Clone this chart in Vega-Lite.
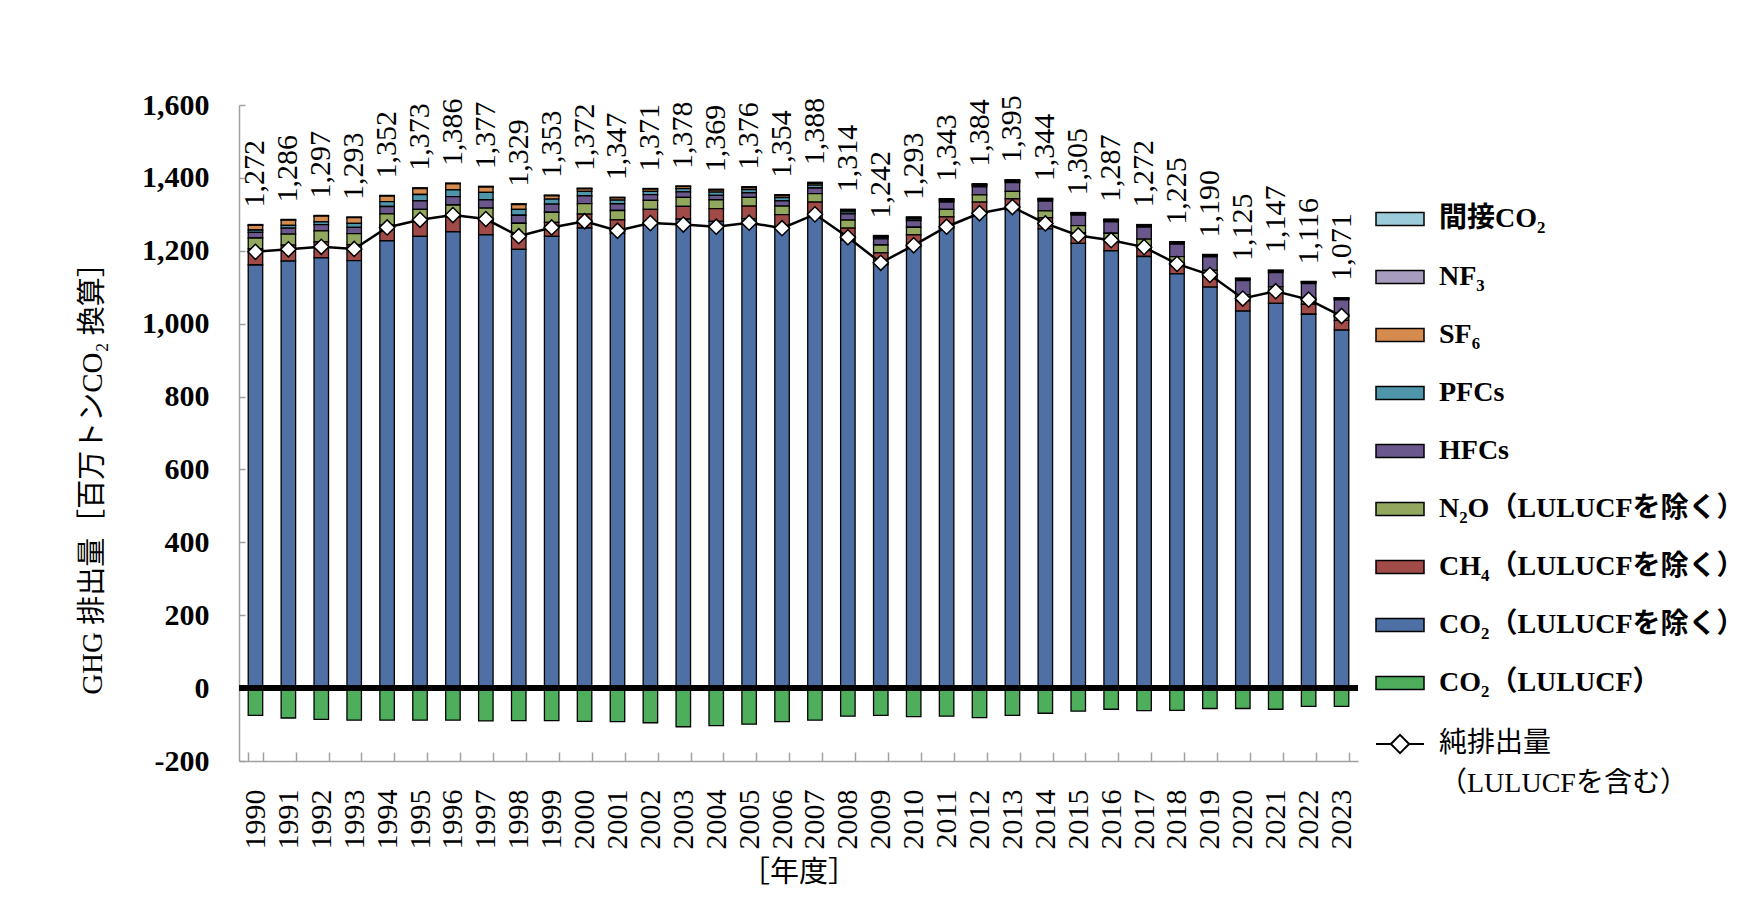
{
  "$schema": "https://vega.github.io/schema/vega-lite/v6.json",
  "width": 1119,
  "height": 656,
  "autosize": {"type": "none"},
  "padding": {"left": 239, "top": 105, "right": 390, "bottom": 137},
  "background": "white",
  "config": {
    "view": {"stroke": null},
    "font": "Liberation Serif, DejaVu Serif, Noto Sans CJK JP",
    "style": {"guide-label": {"lineHeight": 40}},
    "axis": {
      "labelFont": "Liberation Serif, DejaVu Serif, Noto Sans CJK JP",
      "titleFont": "Liberation Serif, DejaVu Serif, Noto Sans CJK JP",
      "labelColor": "black",
      "titleColor": "black",
      "labelFontSize": 30,
      "titleFontSize": 29,
      "titleFontWeight": "normal",
      "grid": false,
      "domainColor": "#a0a0a0",
      "tickColor": "#a0a0a0",
      "domainWidth": 1.5,
      "tickWidth": 1.5
    },
    "axisX": {
      "tickBand": "extent",
      "tickSize": -9,
      "labelAngle": -90,
      "labelAlign": "right",
      "labelBaseline": "middle",
      "labelPadding": 37,
      "titlePadding": 9
    },
    "axisY": {
      "tickSize": -6,
      "tickCount": 9,
      "labelPadding": 36,
      "labelFontWeight": "bold",
      "titleAngle": -90,
      "titleX": -147,
      "titleY": 366,
      "titleAlign": "center",
      "titleBaseline": "middle"
    },
    "legend": {
      "labelFont": "Liberation Serif, DejaVu Serif, Noto Sans CJK JP",
      "labelFontSize": 28,
      "labelColor": "black",
      "labelLimit": 500,
      "padding": 0
    }
  },
  "data": {
    "values": [
      {"year": 1990, "co2": 1161.0, "ch4": 44.0, "n2o": 30.0, "hfc": 15.5, "pfc": 6.5, "sf6": 12.9, "nf3": 0.03, "ind": 2.1, "lulucf": -75, "total": 1272, "net": 1197},
      {"year": 1991, "co2": 1171.7, "ch4": 44.0, "n2o": 30.0, "hfc": 16.5, "pfc": 7.5, "sf6": 14.2, "nf3": 0.03, "ind": 2.1, "lulucf": -82, "total": 1286, "net": 1204},
      {"year": 1992, "co2": 1180.3, "ch4": 44.0, "n2o": 30.5, "hfc": 17.0, "pfc": 7.6, "sf6": 15.6, "nf3": 0.04, "ind": 2.0, "lulucf": -86, "total": 1297, "net": 1211},
      {"year": 1993, "co2": 1172.8, "ch4": 44.0, "n2o": 30.0, "hfc": 17.5, "pfc": 10.9, "sf6": 15.7, "nf3": 0.06, "ind": 2.0, "lulucf": -88, "total": 1293, "net": 1205},
      {"year": 1994, "co2": 1227.0, "ch4": 43.0, "n2o": 31.5, "hfc": 20.0, "pfc": 13.4, "sf6": 15.0, "nf3": 0.08, "ind": 2.0, "lulucf": -88, "total": 1352, "net": 1264},
      {"year": 1995, "co2": 1239.7, "ch4": 42.0, "n2o": 32.0, "hfc": 23.0, "pfc": 17.7, "sf6": 16.4, "nf3": 0.2, "ind": 2.0, "lulucf": -88, "total": 1373, "net": 1285},
      {"year": 1996, "co2": 1251.6, "ch4": 41.0, "n2o": 33.0, "hfc": 23.0, "pfc": 18.3, "sf6": 17.0, "nf3": 0.2, "ind": 1.9, "lulucf": -88, "total": 1386, "net": 1298},
      {"year": 1997, "co2": 1243.5, "ch4": 40.0, "n2o": 33.5, "hfc": 23.0, "pfc": 20.4, "sf6": 14.5, "nf3": 0.2, "ind": 1.9, "lulucf": -90, "total": 1377, "net": 1287},
      {"year": 1998, "co2": 1204.0, "ch4": 39.0, "n2o": 32.5, "hfc": 22.0, "pfc": 16.3, "sf6": 13.2, "nf3": 0.2, "ind": 1.8, "lulucf": -89, "total": 1329, "net": 1240},
      {"year": 1999, "co2": 1239.7, "ch4": 38.5, "n2o": 27.5, "hfc": 22.5, "pfc": 13.5, "sf6": 9.2, "nf3": 0.3, "ind": 1.8, "lulucf": -89, "total": 1353, "net": 1264},
      {"year": 2000, "co2": 1262.5, "ch4": 38.0, "n2o": 29.0, "hfc": 21.5, "pfc": 11.9, "sf6": 7.0, "nf3": 0.3, "ind": 1.8, "lulucf": -91, "total": 1372, "net": 1281},
      {"year": 2001, "co2": 1248.0, "ch4": 37.0, "n2o": 25.5, "hfc": 18.5, "pfc": 9.9, "sf6": 6.1, "nf3": 0.3, "ind": 1.7, "lulucf": -92, "total": 1347, "net": 1255},
      {"year": 2002, "co2": 1277.5, "ch4": 36.0, "n2o": 25.0, "hfc": 15.5, "pfc": 9.2, "sf6": 5.7, "nf3": 0.4, "ind": 1.7, "lulucf": -95, "total": 1371, "net": 1276},
      {"year": 2003, "co2": 1286.6, "ch4": 35.5, "n2o": 24.5, "hfc": 15.0, "pfc": 8.9, "sf6": 5.4, "nf3": 0.5, "ind": 1.6, "lulucf": -106, "total": 1378, "net": 1272},
      {"year": 2004, "co2": 1280.5, "ch4": 35.0, "n2o": 24.5, "hfc": 12.0, "pfc": 9.2, "sf6": 5.3, "nf3": 0.9, "ind": 1.6, "lulucf": -103, "total": 1369, "net": 1266},
      {"year": 2005, "co2": 1288.2, "ch4": 34.5, "n2o": 24.0, "hfc": 12.5, "pfc": 8.6, "sf6": 5.1, "nf3": 1.5, "ind": 1.6, "lulucf": -99, "total": 1376, "net": 1277},
      {"year": 2006, "co2": 1265.2, "ch4": 34.0, "n2o": 23.5, "hfc": 14.0, "pfc": 9.0, "sf6": 5.2, "nf3": 1.6, "ind": 1.5, "lulucf": -92, "total": 1354, "net": 1262},
      {"year": 2007, "co2": 1300.2, "ch4": 33.5, "n2o": 23.0, "hfc": 15.5, "pfc": 7.9, "sf6": 4.7, "nf3": 1.7, "ind": 1.5, "lulucf": -88, "total": 1388, "net": 1300},
      {"year": 2008, "co2": 1229.2, "ch4": 33.0, "n2o": 22.0, "hfc": 17.0, "pfc": 5.7, "sf6": 4.2, "nf3": 1.5, "ind": 1.4, "lulucf": -77, "total": 1314, "net": 1237},
      {"year": 2009, "co2": 1161.8, "ch4": 32.5, "n2o": 21.5, "hfc": 17.0, "pfc": 4.0, "sf6": 2.4, "nf3": 1.5, "ind": 1.3, "lulucf": -75, "total": 1242, "net": 1167},
      {"year": 2010, "co2": 1211.6, "ch4": 32.0, "n2o": 21.0, "hfc": 18.5, "pfc": 4.2, "sf6": 2.4, "nf3": 2.0, "ind": 1.3, "lulucf": -78, "total": 1293, "net": 1215},
      {"year": 2011, "co2": 1261.4, "ch4": 31.5, "n2o": 20.5, "hfc": 20.5, "pfc": 3.8, "sf6": 2.2, "nf3": 1.8, "ind": 1.3, "lulucf": -77, "total": 1343, "net": 1266},
      {"year": 2012, "co2": 1302.6, "ch4": 31.0, "n2o": 20.0, "hfc": 22.0, "pfc": 3.4, "sf6": 2.2, "nf3": 1.5, "ind": 1.3, "lulucf": -81, "total": 1384, "net": 1303},
      {"year": 2013, "co2": 1312.3, "ch4": 30.5, "n2o": 20.0, "hfc": 24.0, "pfc": 3.3, "sf6": 2.1, "nf3": 1.5, "ind": 1.3, "lulucf": -75, "total": 1395, "net": 1320},
      {"year": 2014, "co2": 1260.2, "ch4": 30.0, "n2o": 19.5, "hfc": 26.5, "pfc": 3.4, "sf6": 2.1, "nf3": 1.1, "ind": 1.2, "lulucf": -69, "total": 1344, "net": 1275},
      {"year": 2015, "co2": 1220.3, "ch4": 29.5, "n2o": 19.0, "hfc": 29.0, "pfc": 3.3, "sf6": 2.1, "nf3": 0.6, "ind": 1.2, "lulucf": -63, "total": 1305, "net": 1242},
      {"year": 2016, "co2": 1199.6, "ch4": 29.5, "n2o": 19.0, "hfc": 31.5, "pfc": 3.4, "sf6": 2.2, "nf3": 0.6, "ind": 1.2, "lulucf": -58, "total": 1287, "net": 1229},
      {"year": 2017, "co2": 1184.3, "ch4": 29.0, "n2o": 18.5, "hfc": 33.0, "pfc": 3.5, "sf6": 2.1, "nf3": 0.4, "ind": 1.2, "lulucf": -62, "total": 1272, "net": 1210},
      {"year": 2018, "co2": 1136.7, "ch4": 29.0, "n2o": 18.0, "hfc": 34.5, "pfc": 3.4, "sf6": 2.0, "nf3": 0.3, "ind": 1.1, "lulucf": -61, "total": 1225, "net": 1164},
      {"year": 2019, "co2": 1100.2, "ch4": 28.5, "n2o": 17.5, "hfc": 37.0, "pfc": 3.4, "sf6": 2.0, "nf3": 0.3, "ind": 1.1, "lulucf": -56, "total": 1190, "net": 1134},
      {"year": 2020, "co2": 1034.2, "ch4": 28.5, "n2o": 17.0, "hfc": 38.5, "pfc": 3.5, "sf6": 2.0, "nf3": 0.3, "ind": 1.0, "lulucf": -56, "total": 1125, "net": 1069},
      {"year": 2021, "co2": 1055.8, "ch4": 28.0, "n2o": 17.0, "hfc": 39.5, "pfc": 3.3, "sf6": 2.1, "nf3": 0.3, "ind": 1.0, "lulucf": -58, "total": 1147, "net": 1089},
      {"year": 2022, "co2": 1025.8, "ch4": 27.5, "n2o": 16.5, "hfc": 40.0, "pfc": 2.9, "sf6": 2.0, "nf3": 0.3, "ind": 1.0, "lulucf": -50, "total": 1116, "net": 1066},
      {"year": 2023, "co2": 982.1, "ch4": 27.0, "n2o": 16.0, "hfc": 40.0, "pfc": 2.7, "sf6": 1.9, "nf3": 0.3, "ind": 1.0, "lulucf": -50, "total": 1071, "net": 1021}
    ]
  },
  "layer": [
    {
      "transform": [
        {"fold": ["ind", "nf3", "sf6", "pfc", "hfc", "n2o", "ch4", "co2", "lulucf"]},
        {"calculate": "indexof(['co2','ch4','n2o','hfc','pfc','sf6','nf3','ind','lulucf'], datum.key)", "as": "ord"}
      ],
      "mark": {"type": "bar", "stroke": "black", "strokeWidth": 1.3},
      "encoding": {
        "x": {
          "field": "year", "type": "ordinal", "title": "［年度］",
          "scale": {"paddingInner": 0.56, "paddingOuter": 0.28}
        },
        "y": {
          "field": "value", "type": "quantitative", "stack": "zero",
          "title": "GHG 排出量［百万トンCO₂ 換算］",
          "scale": {"domain": [-200, 1600], "nice": false},
          "axis": {"labelExpr": "datum.value < 0 ? '-' + format(-datum.value, ',') : format(datum.value, ',')"}
        },
        "color": {
          "field": "key", "type": "nominal",
          "scale": {
            "domain": ["ind", "nf3", "sf6", "pfc", "hfc", "n2o", "ch4", "co2", "lulucf"],
            "range": ["#9ccbdc", "#a69cc0", "#d68b4e", "#5096aa", "#6a588c", "#91a85e", "#a04b47", "#4f70a5", "#4fae5c"]
          },
          "legend": {
            "orient": "none",
            "legendX": 1136,
            "legendY": 89,
            "title": null,
            "symbolType": "M-1,-0.27L1,-0.27L1,0.27L-1,0.27Z",
            "symbolSize": 2304,
            "symbolStrokeColor": "black",
            "symbolStrokeWidth": 1.5,
            "symbolOpacity": 1,
            "labelOffset": 14,
            "labelFontWeight": "bold",
            "rowPadding": 19,
            "labelExpr": "['間接CO₂','NF₃','SF₆','PFCs','HFCs','N₂O（LULUCFを除く）','CH₄（LULUCFを除く）','CO₂（LULUCFを除く）','CO₂（LULUCF）'][indexof(['ind','nf3','sf6','pfc','hfc','n2o','ch4','co2','lulucf'], datum.label)]"
          }
        },
        "order": {"field": "ord", "type": "quantitative"}
      }
    },
    {
      "mark": {"type": "rule", "color": "black", "strokeWidth": 5},
      "encoding": {"y": {"datum": 0}}
    },
    {
      "mark": {"type": "line", "color": "black", "strokeWidth": 2.5},
      "encoding": {
        "x": {"field": "year", "type": "ordinal", "title": "［年度］"},
        "y": {"field": "net", "type": "quantitative", "title": "GHG 排出量［百万トンCO₂ 換算］"}
      }
    },
    {
      "mark": {"type": "point", "shape": "diamond", "filled": true, "fill": "white", "stroke": "black", "strokeWidth": 1.5, "size": 230, "opacity": 1},
      "encoding": {
        "x": {"field": "year", "type": "ordinal", "title": "［年度］"},
        "y": {"field": "net", "type": "quantitative", "title": "GHG 排出量［百万トンCO₂ 換算］"},
        "stroke": {
          "datum": "純排出量|（LULUCFを含む）",
          "scale": {"range": ["black"]},
          "legend": {
            "orient": "none",
            "legendX": 1136,
            "legendY": 614,
            "title": null,
            "symbolType": "M-1,0L-0.38,0M0.38,0L1,0M-0.38,0L0,-0.38L0.38,0L0,0.38Z",
            "symbolSize": 2304,
            "symbolFillColor": "white",
            "symbolStrokeColor": "black",
            "symbolStrokeWidth": 2,
            "symbolOpacity": 1,
            "labelOffset": 14,
            "labelExpr": "split(datum.label, '|')",
            "encode": {
              "labels": {"update": {"baseline": {"value": "top"}, "dy": {"value": -14}, "lineHeight": {"value": 40}}},
              "symbols": {"update": {"fill": {"value": "white"}, "stroke": {"value": "black"}, "strokeWidth": {"value": 2}, "opacity": {"value": 1}}}
            }
          }
        }
      }
    },
    {
      "mark": {"type": "text", "angle": 270, "align": "left", "baseline": "middle", "dx": 17, "fontSize": 30, "color": "black", "font": "Liberation Serif, DejaVu Serif, Noto Sans CJK JP"},
      "encoding": {
        "x": {"field": "year", "type": "ordinal", "title": "［年度］"},
        "y": {"field": "total", "type": "quantitative", "title": "GHG 排出量［百万トンCO₂ 換算］"},
        "text": {"field": "total", "type": "quantitative", "format": ","}
      }
    }
  ]
}
